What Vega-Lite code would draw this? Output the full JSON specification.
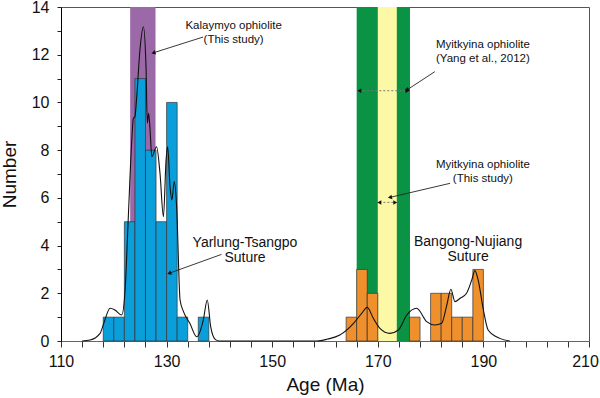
{
  "$schema": "https://vega.github.io/schema/vega-lite/v6.json",
  "width": 528,
  "height": 334,
  "autosize": "none",
  "padding": {"left": 61, "top": 7, "right": 11, "bottom": 57},
  "background": "white",
  "config": {
    "font": "Liberation Sans",
    "view": {"stroke": "#555", "strokeWidth": 1},
    "axis": {"labelOverlap": false, "labelFlush": false, "labelBound": false}
  },
  "datasets": {
    "bands": [
      {"band": "Kalaymyo", "from": 123.1, "to": 127.9},
      {"band": "Myitkyina (Yang)", "from": 166.0, "to": 176.1},
      {"band": "Myitkyina (this study)", "from": 170.0, "to": 173.6}
    ],
    "bars": [
      {"start": 118, "end": 120, "count": 1, "suture": "Yarlung-Tsangpo"},
      {"start": 120, "end": 122, "count": 1, "suture": "Yarlung-Tsangpo"},
      {"start": 122, "end": 124, "count": 5, "suture": "Yarlung-Tsangpo"},
      {"start": 124, "end": 126, "count": 11, "suture": "Yarlung-Tsangpo"},
      {"start": 126, "end": 128, "count": 8, "suture": "Yarlung-Tsangpo"},
      {"start": 128, "end": 130, "count": 5, "suture": "Yarlung-Tsangpo"},
      {"start": 130, "end": 132, "count": 10, "suture": "Yarlung-Tsangpo"},
      {"start": 132, "end": 134, "count": 1, "suture": "Yarlung-Tsangpo"},
      {"start": 136, "end": 138, "count": 1, "suture": "Yarlung-Tsangpo"},
      {"start": 164, "end": 166, "count": 1, "suture": "Bangong-Nujiang"},
      {"start": 166, "end": 168, "count": 3, "suture": "Bangong-Nujiang"},
      {"start": 168, "end": 170, "count": 2, "suture": "Bangong-Nujiang"},
      {"start": 176, "end": 178, "count": 1, "suture": "Bangong-Nujiang"},
      {"start": 180, "end": 182, "count": 2, "suture": "Bangong-Nujiang"},
      {"start": 182, "end": 184, "count": 2, "suture": "Bangong-Nujiang"},
      {"start": 184, "end": 186, "count": 1, "suture": "Bangong-Nujiang"},
      {"start": 186, "end": 188, "count": 1, "suture": "Bangong-Nujiang"},
      {"start": 188, "end": 190, "count": 3, "suture": "Bangong-Nujiang"}
    ],
    "kde": [
      {"age": 114.0, "density": 0},
      {"age": 115.5, "density": 0.04},
      {"age": 117.4, "density": 0.32},
      {"age": 118.1, "density": 0.74},
      {"age": 119.3, "density": 1.37},
      {"age": 120.2, "density": 1.3},
      {"age": 121.5, "density": 1.09},
      {"age": 122.1, "density": 2.0},
      {"age": 122.75, "density": 5.2},
      {"age": 123.4, "density": 8.4},
      {"age": 123.7, "density": 9.33},
      {"age": 124.0, "density": 9.4},
      {"age": 124.3, "density": 10.1},
      {"age": 124.95, "density": 12.2},
      {"age": 125.6, "density": 13.17},
      {"age": 126.1, "density": 11.5},
      {"age": 126.35, "density": 9.13},
      {"age": 126.6, "density": 9.54},
      {"age": 126.85, "density": 8.92},
      {"age": 127.2, "density": 7.73},
      {"age": 128.1, "density": 8.14},
      {"age": 128.75, "density": 7.03},
      {"age": 129.4, "density": 5.21},
      {"age": 129.9, "density": 7.59},
      {"age": 130.2, "density": 8.14},
      {"age": 130.65, "density": 6.47},
      {"age": 131.0, "density": 5.91},
      {"age": 131.45, "density": 6.68},
      {"age": 131.9, "density": 5.63},
      {"age": 132.55, "density": 1.72},
      {"age": 133.2, "density": 1.23},
      {"age": 134.4, "density": 0.74},
      {"age": 135.7, "density": 0.18},
      {"age": 136.95, "density": 0.88},
      {"age": 137.7, "density": 1.72},
      {"age": 138.35, "density": 0.6},
      {"age": 139.2, "density": 0.07},
      {"age": 140.0, "density": 0},
      {"age": 158.5, "density": 0},
      {"age": 160.5, "density": 0.08},
      {"age": 162.8, "density": 0.25},
      {"age": 165.4, "density": 0.74},
      {"age": 166.95, "density": 1.16},
      {"age": 168.0, "density": 1.41},
      {"age": 169.15, "density": 0.95},
      {"age": 170.4, "density": 0.53},
      {"age": 172.3, "density": 0.32},
      {"age": 173.9, "density": 0.46},
      {"age": 175.5, "density": 1.09},
      {"age": 177.35, "density": 1.37},
      {"age": 179.25, "density": 0.81},
      {"age": 180.8, "density": 0.67},
      {"age": 182.1, "density": 0.74},
      {"age": 183.0, "density": 1.44},
      {"age": 183.85, "density": 2.17},
      {"age": 184.6, "density": 1.65},
      {"age": 185.6, "density": 1.79},
      {"age": 186.8, "density": 2.0},
      {"age": 187.8, "density": 2.56},
      {"age": 188.4, "density": 2.95},
      {"age": 189.0, "density": 2.56},
      {"age": 190.0, "density": 1.3},
      {"age": 190.9, "density": 0.46},
      {"age": 193.1, "density": 0.11},
      {"age": 195.0, "density": 0}
    ],
    "arrows": [
      {"id": "Kalaymyo", "fromAge": 136.9, "fromN": 12.74, "toAge": 127.5, "toN": 12.08},
      {"id": "Yarlung", "fromAge": 140.4, "fromN": 3.63, "toAge": 130.5, "toN": 2.84},
      {"id": "Yang", "fromAge": 180.8, "fromN": 11.29, "toAge": 175.5, "toN": 10.52},
      {"id": "ThisStudy", "fromAge": 183.7, "fromN": 6.61, "toAge": 172.3, "toN": 6.02}
    ],
    "ranges": [
      {"id": "Yang", "low": 166.5, "high": 175.6, "n": 10.49},
      {"id": "ThisStudy", "low": 170.3, "high": 173.3, "n": 5.81}
    ],
    "labels": [
      {"kind": "small", "label": "Kalaymyo ophiolite", "age": 142.7, "n": 13.07},
      {"kind": "small", "label": "(This study)", "age": 142.7, "n": 12.48},
      {"kind": "small", "label": "Myitkyina ophiolite", "age": 189.9, "n": 12.27},
      {"kind": "small", "label": "(Yang et al., 2012)", "age": 189.9, "n": 11.71},
      {"kind": "small", "label": "Myitkyina ophiolite", "age": 189.9, "n": 7.24},
      {"kind": "small", "label": "(This study)", "age": 189.9, "n": 6.68},
      {"kind": "big", "label": "Yarlung-Tsangpo", "age": 144.85, "n": 3.95},
      {"kind": "big", "label": "Suture", "age": 144.85, "n": 3.32},
      {"kind": "big", "label": "Bangong-Nujiang", "age": 187.1, "n": 3.99},
      {"kind": "big", "label": "Suture", "age": 187.1, "n": 3.35}
    ]
  },
  "encoding": {
    "x": {"type": "quantitative", "scale": {"domain": [110, 210], "nice": false, "zero": false},
      "axis": {
        "title": "Age (Ma)", "titleFontSize": 19, "titleFontWeight": "normal", "titleColor": "#111", "titlePadding": 6,
        "values": [110,114,118,122,126,130,134,138,142,146,150,154,158,162,166,170,174,178,182,186,190,194,198,202,206,210],
        "labelExpr": "(datum.value - 110) % 20 == 0 ? datum.label : ''",
        "labelOffset": {"condition": {"test": "datum.value == 210", "value": -4}, "value": 0},
        "labelOverlap": false, "labelFlush": false, "labelFontSize": 16, "labelColor": "#111", "labelPadding": 6,
        "tickSize": 6, "tickColor": "#333", "domainColor": "#666", "grid": false
      }},
    "y": {"type": "quantitative", "scale": {"domain": [0, 14], "nice": false},
      "axis": {
        "title": "Number", "titleFontSize": 19, "titleFontWeight": "normal", "titleColor": "#111", "titlePadding": 12,
        "values": [0,1,2,3,4,5,6,7,8,9,10,11,12,13,14],
        "labelExpr": "datum.value % 2 == 0 ? datum.label : ''",
        "labelOverlap": false, "labelFlush": false, "labelFontSize": 16, "labelColor": "#111", "labelPadding": 8,
        "tickSize": 4, "tickColor": "#222", "domainColor": "#000", "grid": false
      }}
  },
  "layer": [
    {
      "data": {"name": "bands"},
      "mark": {"type": "rect", "strokeWidth": 0},
      "encoding": {
        "x": {"field": "from", "type": "quantitative"},
        "x2": {"field": "to"},
        "y": {"datum": 0, "type": "quantitative"},
        "y2": {"datum": 14},
        "color": {"field": "band", "type": "nominal", "legend": null,
          "scale": {"domain": ["Kalaymyo", "Myitkyina (Yang)", "Myitkyina (this study)"], "range": ["#9b68a8", "#0b9345", "#fdf8a6"]}}
      }
    },
    {
      "data": {"name": "bars"},
      "mark": {"type": "rect", "stroke": "#333", "strokeWidth": 0.7},
      "encoding": {
        "x": {"field": "start", "type": "quantitative"},
        "x2": {"field": "end"},
        "y": {"field": "count", "type": "quantitative"},
        "y2": {"datum": 0},
        "fill": {"field": "suture", "type": "nominal", "legend": null,
          "scale": {"domain": ["Yarlung-Tsangpo", "Bangong-Nujiang"], "range": ["#0a9fda", "#f0902c"]}}
      }
    },
    {
      "data": {"name": "kde"},
      "mark": {"type": "line", "color": "#111", "strokeWidth": 1.1, "interpolate": "monotone"},
      "encoding": {
        "x": {"field": "age", "type": "quantitative"},
        "y": {"field": "density", "type": "quantitative"}
      }
    },
    {
      "data": {"name": "arrows"},
      "mark": {"type": "rule", "color": "#222", "strokeWidth": 0.9},
      "encoding": {
        "x": {"field": "fromAge", "type": "quantitative"},
        "y": {"field": "fromN", "type": "quantitative"},
        "x2": {"field": "toAge"},
        "y2": {"field": "toN"}
      }
    },
    {
      "data": {"name": "arrows"},
      "transform": [{"filter": "datum.id == 'Kalaymyo'"}],
      "mark": {"type": "point", "shape": "triangle-right", "filled": true, "color": "#111", "size": 22, "angle": 162.6, "opacity": 1},
      "encoding": {"x": {"field": "toAge", "type": "quantitative"}, "y": {"field": "toN", "type": "quantitative"}}
    },
    {
      "data": {"name": "arrows"},
      "transform": [{"filter": "datum.id == 'Yarlung'"}],
      "mark": {"type": "point", "shape": "triangle-right", "filled": true, "color": "#111", "size": 22, "angle": 160.1, "opacity": 1},
      "encoding": {"x": {"field": "toAge", "type": "quantitative"}, "y": {"field": "toN", "type": "quantitative"}}
    },
    {
      "data": {"name": "arrows"},
      "transform": [{"filter": "datum.id == 'Yang'"}],
      "mark": {"type": "point", "shape": "triangle-right", "filled": true, "color": "#111", "size": 22, "angle": 147.1, "opacity": 1},
      "encoding": {"x": {"field": "toAge", "type": "quantitative"}, "y": {"field": "toN", "type": "quantitative"}}
    },
    {
      "data": {"name": "arrows"},
      "transform": [{"filter": "datum.id == 'ThisStudy'"}],
      "mark": {"type": "point", "shape": "triangle-right", "filled": true, "color": "#111", "size": 22, "angle": 166.9, "opacity": 1},
      "encoding": {"x": {"field": "toAge", "type": "quantitative"}, "y": {"field": "toN", "type": "quantitative"}}
    },
    {
      "data": {"name": "ranges"},
      "mark": {"type": "rule", "color": "#777", "strokeWidth": 1, "strokeDash": [2, 2]},
      "encoding": {
        "x": {"field": "low", "type": "quantitative"},
        "x2": {"field": "high"},
        "y": {"field": "n", "type": "quantitative"}
      }
    },
    {
      "data": {"name": "ranges"},
      "mark": {"type": "point", "shape": "triangle-left", "filled": true, "color": "#111", "size": 20, "opacity": 1},
      "encoding": {"x": {"field": "low", "type": "quantitative"}, "y": {"field": "n", "type": "quantitative"}}
    },
    {
      "data": {"name": "ranges"},
      "mark": {"type": "point", "shape": "triangle-right", "filled": true, "color": "#111", "size": 20, "opacity": 1},
      "encoding": {"x": {"field": "high", "type": "quantitative"}, "y": {"field": "n", "type": "quantitative"}}
    },
    {
      "data": {"name": "labels"},
      "transform": [{"filter": "datum.kind == 'small'"}],
      "mark": {"type": "text", "align": "center", "baseline": "alphabetic", "fontSize": 11.5, "color": "#111"},
      "encoding": {
        "x": {"field": "age", "type": "quantitative"},
        "y": {"field": "n", "type": "quantitative"},
        "text": {"field": "label"}
      }
    },
    {
      "data": {"name": "labels"},
      "transform": [{"filter": "datum.kind == 'big'"}],
      "mark": {"type": "text", "align": "center", "baseline": "alphabetic", "fontSize": 14, "color": "#111"},
      "encoding": {
        "x": {"field": "age", "type": "quantitative"},
        "y": {"field": "n", "type": "quantitative"},
        "text": {"field": "label"}
      }
    }
  ]
}
